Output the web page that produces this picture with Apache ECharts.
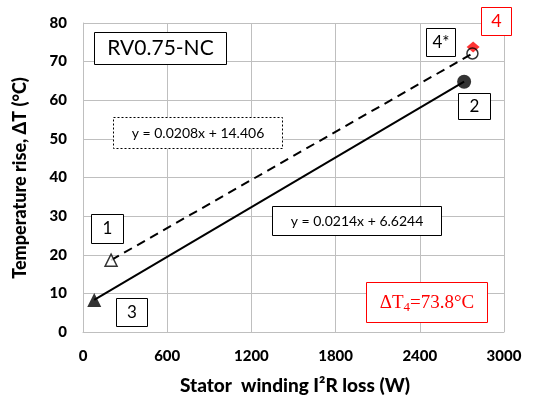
<!DOCTYPE html>
<html><head><meta charset="utf-8">
<script src="https://cdn.jsdelivr.net/npm/echarts@6/dist/echarts.min.js"></script>
<style>html,body{margin:0;padding:0;background:#fff}#c{width:533px;height:401px}</style>
</head><body><div id="c"></div>
<script>
// Data
const xTicks = [0, 600, 1200, 1800, 2400, 3000];
const yTicks = [0, 10, 20, 30, 40, 50, 60, 70, 80];
const dashedLine = [[200, 18.6], [2775, 72.1]];   // trendline y = 0.0208x + 14.406
const solidLine  = [[80, 8.3], [2716, 64.8]];     // trendline y = 0.0214x + 6.6244
const point1 = [[200, 18.6]];   // open triangle
const point3 = [[80, 8.3]];     // filled triangle
const point2 = [[2716, 64.8]];  // filled circle
const point4s = [[2775, 72.1]]; // open circle (4*)
const point4 = [[2780, 73.8]];  // red diamond (4)
const xTitle = 'Stator  winding I\u00B2R loss (W)';
const yTitle = 'Temperature rise, \u0394T (\u00B0C)';

const F = 'Lato, "Noto Sans", sans-serif';
const chart = echarts.init(document.getElementById('c'), null, {renderer: 'canvas'});

function box(x, y, w, h, text, opts) {
  opts = opts || {};
  return [
    {type: 'rect', shape: {x: x + 0.5, y: y + 0.5, width: w, height: h}, z: 10,
     style: {fill: '#fff', stroke: opts.stroke || '#000', lineWidth: 1, lineDash: opts.dash || null}},
    {type: 'text', x: x + w / 2 + 0.5, y: y + h / 2 + 0.5, z: 11,
     style: {text: text, fill: opts.color || '#000', font: opts.font || ('17px ' + F),
             align: 'center', verticalAlign: 'middle', textAlign: 'center', textVerticalAlign: 'middle'}}
  ];
}

const graphics = [].concat(
  box(94, 32, 132, 32, 'RV0.75-NC', {font: '21px ' + F}),
  box(113, 117, 169, 31, 'y = 0.0208x + 14.406', {font: '14px ' + F, dash: [2, 2]}),
  box(272, 206, 169, 29, 'y = 0.0214x + 6.6244', {font: '14px ' + F}),
  box(91, 214, 32, 29, '1'),
  box(116, 298, 31, 28, '3'),
  box(458, 93, 32, 26, '2'),
  box(426, 28, 29, 28, '4*'),
  box(481, 7, 30, 28, '4', {font: '18px ' + F, color: '#ff0000', stroke: '#ff0000'}),
  [
    {type: 'rect', shape: {x: 366.5, y: 282.5, width: 121, height: 40}, z: 10,
     style: {fill: '#fff', stroke: '#ff0000', lineWidth: 1}},
    {type: 'text', x: 427, y: 303, z: 11,
     style: {text: '{a|\u0394T}{s|4}{a|=73.8\u00B0C}', align: 'center', verticalAlign: 'middle',
             textAlign: 'center', textVerticalAlign: 'middle',
             rich: {
               a: {fontFamily: '"Liberation Serif", serif', fontSize: 19, fill: '#ff0000', color: '#ff0000'},
               s: {fontFamily: '"Liberation Serif", serif', fontSize: 13, fill: '#ff0000', color: '#ff0000', padding: [10, 0, 0, 0]}
             }}},
    {type: 'text', x: 295, y: 386, z: 11,
     style: {text: xTitle, font: '900 19px ' + F, fill: '#000', align: 'center', verticalAlign: 'middle',
             textAlign: 'center', textVerticalAlign: 'middle'}},
    {type: 'text', x: 20, y: 178, rotation: Math.PI / 2, z: 11,
     style: {text: yTitle, font: '900 18px ' + F, fill: '#000', align: 'center', verticalAlign: 'middle',
             textAlign: 'center', textVerticalAlign: 'middle'}}
  ]
);

chart.setOption({
  animation: false,
  grid: {left: 83, right: 29, top: 23, bottom: 69},
  xAxis: {
    type: 'value', min: xTicks[0], max: xTicks[xTicks.length - 1], interval: 600,
    axisLine: {show: true, lineStyle: {color: '#bfbfbf'}},
    axisTick: {show: false},
    axisLabel: {fontFamily: F, fontWeight: 900, fontSize: 15, color: '#000', margin: 17,
                formatter: function (v) { return String(v); }},
    splitLine: {show: true, lineStyle: {color: '#bfbfbf', width: 1}}
  },
  yAxis: {
    type: 'value', min: yTicks[0], max: yTicks[yTicks.length - 1], interval: 10,
    axisLine: {show: true, lineStyle: {color: '#bfbfbf'}},
    axisTick: {show: false},
    axisLabel: {fontFamily: F, fontWeight: 900, fontSize: 15, color: '#000', margin: 16,
                formatter: function (v) { return String(v); }},
    splitLine: {show: true, lineStyle: {color: '#bfbfbf', width: 1}}
  },
  series: [
    {type: 'line', data: dashedLine, symbol: 'none', lineStyle: {color: '#000', width: 2, type: [9, 6]}, z: 2},
    {type: 'line', data: solidLine, symbol: 'none', lineStyle: {color: '#000', width: 2}, z: 2},
    {type: 'scatter', data: point1, symbol: 'triangle', symbolSize: 12,
     itemStyle: {color: '#fff', borderColor: '#000', borderWidth: 1.5}, z: 3},
    {type: 'scatter', data: point3, symbol: 'triangle', symbolSize: 14, itemStyle: {color: '#000'}, z: 3},
    {type: 'scatter', data: point2, symbol: 'circle', symbolSize: 14, itemStyle: {color: '#000'}, z: 3},
    {type: 'scatter', data: point4, symbol: 'diamond', symbolSize: [13, 11], itemStyle: {color: '#ff0000'}, z: 3},
    {type: 'scatter', data: point4s, symbol: 'circle', symbolSize: 11,
     itemStyle: {color: 'rgba(255,255,255,0)', borderColor: '#000', borderWidth: 1.5}, z: 4}
  ],
  graphic: graphics
});
</script></body></html>
